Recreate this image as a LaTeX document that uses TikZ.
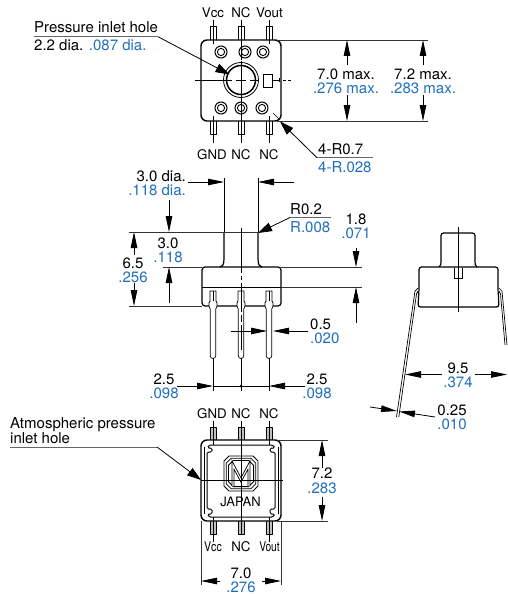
\documentclass[tikz,border=0pt]{standalone}
\usepackage{fontspec}
\setmainfont{TeX Gyre Heros}
\usetikzlibrary{arrows.meta}
\definecolor{dimblue}{HTML}{1F6FBF}
\tikzset{
 lab/.style={anchor=base,inner sep=0pt,font=\fontsize{15}{15}\selectfont,text=black},
 pinlab/.style={lab,font=\fontsize{13.3}{13.3}\selectfont},
 blu/.style={lab,text=dimblue},
 labl/.style={lab,anchor=base west},
 blul/.style={blu,anchor=base west},
 labr/.style={lab,anchor=base east},
 blur/.style={blu,anchor=base east},
 obj/.style={line width=1.2pt,line join=round},
 pinl/.style={line width=.7pt,line join=round},
 thin line/.style={line width=.7pt},
 ext/.style={line width=.9pt,draw=black!80},
 dimt/.style={line width=.8pt,-{Triangle[length=16pt,width=6.5pt]}},
 lead/.style={line width=.8pt,-{Triangle[length=14pt,width=9pt]}},
 rule/.style={line width=1pt,draw=black!60},
}
\newcommand{\toppin}[1]{\draw[pinl] (#1-3,40)--(#1-3,26.5)--(#1+3,26.5)--(#1+3,40);}
\newcommand{\botpin}[1]{\draw[pinl] (#1-3,121)--(#1-3,134.5)--(#1+3,134.5)--(#1+3,121);}
\newcommand{\hole}[2]{\draw[line width=1pt] (#1,#2) circle (6); \draw[line width=.9pt] (#1,#2) circle (3.6);}
\newcommand{\sidepin}[1]{\draw[pinl,fill=white] (#1-3,291)--(#1-3,301)--(#1-4,303)--(#1-4,306)--(#1-2.8,309)--(#1-2.8,355.5) .. controls (#1-2.8,359.5) and (#1+2.8,359.5) .. (#1+2.8,355.5)--(#1+2.8,309)--(#1+4,306)--(#1+4,303)--(#1+3,301)--(#1+3,291)--cycle;}
\newcommand{\botApin}[1]{\draw[pinl,fill=black!25] (#1-3,440)--(#1-3,427)--(#1+3,427)--(#1+3,440);}
\newcommand{\botBpin}[1]{\draw[pinl,fill=black!25] (#1-3,521)--(#1-3,534)--(#1+3,534)--(#1+3,521);}
\begin{document}
\begin{tikzpicture}[x=1pt,y=-1pt]
\useasboundingbox[fill=white] (0,0) rectangle (507,594);
% ---------- top view
\foreach \x in {213,241,269}{\toppin{\x}\botpin{\x}}
\draw[obj,fill=white,line width=1.4pt,rounded corners=6pt] (201,40) rectangle (281,121);
\draw[thin line] (213,20)--(213,44) (241,20)--(241,60) (269,20)--(269,44) (213,116)--(213,143) (241,98)--(241,143) (269,116)--(269,143);
\hole{221}{52}\hole{245}{52}\hole{263}{52}\hole{221}{108}\hole{241}{108}\hole{262}{108}
\draw[line width=.8pt] (241,80) circle (17.5);
\draw[line width=1.5pt] (241,80) circle (14.5);
\draw[line width=.8pt] (263,74) rectangle (272,87);
\draw[thin line] (195,80)--(232,80) (236,80)--(246,80) (250,80)--(258,80);
\draw[thin line] (241,61)--(241,97);
\draw[thin line] (272,80)--(280,80) (283,80)--(286,80) (288,80)--(291,80);
\draw[thin line] (279,78)--(279,82);
\node[pinlab] (tVcc) at (213,18) {Vcc};
\node[pinlab] (tNC) at (241,18) {NC};
\node[pinlab] (tVout) at (269.5,18) {Vout};
\node[pinlab] (tGND) at (212,159) {GND};
\node[pinlab] (tNCa) at (241,159) {NC};
\node[pinlab] (tNCb) at (269,159) {NC};
\node[labl] (pih) at (34,33) {Pressure inlet hole};
\node[labl] (pid) at (34,51) {2.2 dia. \textcolor{dimblue}{.087 dia.}};
\draw[rule] (34,36.7)--(158,36.7);
\draw[lead] (158,36.7)--(229.5,74.5);
\draw[ext] (277,40)--(428,40) (277,121)--(428,121);
\draw[dimt] (347,65)--(347,40); \draw[dimt] (347,95)--(347,121);
\draw[dimt] (423,65)--(423,40); \draw[dimt] (423,95)--(423,121);
\node[lab] (a70) at (346,79) {7.0 max.};
\node[blu] (a276) at (346,93) {.276 max.};
\node[lab] (a72) at (423,79) {7.2 max.};
\node[blu] (a283) at (423,93) {.283 max.};
\draw[thin line] (273,113)--(279,119);
\draw[rule] (373,157.7)--(317,157.7);
\draw[lead] (317,157.7)--(280,121.5);
\node[labl] (r07) at (318,154) {4-R0.7};
\node[blul] (r028) at (318,172) {4-R.028};
% ---------- side view
\draw[obj] (224,232)--(224,259) .. controls (224,265) and (222,267) .. (220,267);
\draw[obj] (258,232)--(258,259) .. controls (258,265) and (260,267) .. (262,267);
\draw[obj,rounded corners=3pt] (202,267)--(281,267)--(281,306)--(202,306)--cycle;
\draw[line width=.8pt] (202,287)--(281,287);
\foreach \x in {213,241,269}{\sidepin{\x}}
\draw[thin line] (241,228)--(241,273) (241,276)--(241,280) (241,283)--(241,312) (241,315)--(241,322) (241,325)--(241,350);
\draw[thin line] (213,291)--(213,301) (269,291)--(269,301);
\draw[thin line] (213,358)--(213,391) (241,358)--(241,391) (269,358)--(269,391);
\draw[thin line] (224,178)--(224,232) (258,178)--(258,232);
\draw[ext] (129,232)--(258,232);
\draw[ext] (163,267)--(202,267) (129,306)--(202,306);
\draw[ext] (281,267)--(362,267) (281,287)--(362,287);
\draw[dimt] (188,182)--(224,182); \draw[dimt] (294,182)--(258,182);
\draw[dimt] (169,200)--(169,232); \draw[dimt] (169,303)--(169,267);
\draw[dimt] (134,255)--(134,232); \draw[dimt] (134,283)--(134,306);
\draw[dimt] (356,248)--(356,267); \draw[dimt] (356,323)--(356,287);
\draw[dimt] (231,331)--(267,331); \draw[dimt] (308,331)--(273,331);
\draw[dimt] (177,386)--(213,386); \draw[dimt] (305,386)--(269,386);
\draw[line width=.8pt] (213,386)--(269,386);
\fill (241,386) circle (1.5);
\draw[rule] (331,217.5)--(290,217.5);
\draw[lead] (290,217.5)--(258,233);
\node[labr] (d30) at (186,181) {3.0 dia.};
\node[blur] (d118) at (186,195) {.118 dia.};
\node[lab] (h30) at (168,248) {3.0};
\node[blu] (h118) at (168,262) {.118};
\node[lab] (h65) at (133,268) {6.5};
\node[blu] (h256) at (133,282) {.256};
\node[labl] (r02) at (290,214) {R0.2};
\node[blul] (r008) at (290,232) {R.008};
\node[lab] (h18) at (356,224) {1.8};
\node[blu] (h071) at (356,238) {.071};
\node[labl] (w05) at (310,329) {0.5};
\node[blul] (w020) at (310,343.5) {.020};
\node[lab] (p25a) at (164,384) {2.5};
\node[blu] (p098a) at (164,398) {.098};
\node[lab] (p25b) at (317,384) {2.5};
\node[blu] (p098b) at (317,398) {.098};
% ---------- right view
\draw[obj,rounded corners=2.5pt] (419,267)--(498,267)--(498,289)--(499,307)--(418,307)--(419,289)--cycle;
\draw[obj] (439,267) .. controls (441,266) and (441,264) .. (441,261);
\draw[obj,rounded corners=2.5pt] (441,261)--(441,233)--(475,233)--(475,261);
\draw[obj] (475,261) .. controls (475,264) and (475,266) .. (477,267);
\draw[pinl] (454,268)--(454,278)--(462,278)--(462,268);
\draw[thin line] (458,227)--(458,312);
\draw[pinl] (418,288)--(415,291)--(396.5,417);
\draw[pinl] (418,291)--(416.5,294)--(398.8,417);
\draw[pinl] (499,288)--(502,291)--(507,345);
\draw[pinl] (499,291)--(500.5,294)--(505,345);
\draw[dimt] (442,374.5)--(405,374.5); \draw[dimt] (475,374.5)--(507,374.5);
\draw[dimt] (370,407)--(397,411); \draw[dimt] (435,417)--(399,411.5);
\node[lab] (d95) at (458,373) {9.5};
\node[blu] (d374) at (458,387) {.374};
\node[lab] (d025) at (452,415) {0.25};
\node[blu] (d010) at (452,429) {.010};
% ---------- bottom view
\foreach \x in {213,241,269}{\botApin{\x}\botBpin{\x}}
\draw[obj,fill=white,line width=1.4pt,rounded corners=6pt] (201,440) rectangle (281,521);
\foreach \x in {213,269}{\draw[thin line] (\x,421)--(\x,445);\draw[thin line] (\x,517)--(\x,542);}
\draw[line width=1pt,rounded corners=1.5pt] (207,452)--(207,509)--(212,509)--(212,514)--(207.5,514)--(209,517)--(273,517)--(275,514)--(270,514)--(270,509)--(275,509)--(275,452)--(270,452)--(270,448)--(275,448)--(273,445)--(209,445)--(207.5,448)--(212,448)--(212,452)--cycle;
\draw[line width=.7pt] (204,447)--(204,514);
\draw[line width=.7pt] (278,447)--(278,514);
% M logo
\foreach \d in {0,2.2,4.4}{\draw[line width=.8pt] (224+\d+5,456+\d)--(258-\d-5,456+\d)--(258-\d,461+\d)--(258-\d,486-\d)--(253-\d,491-\d)--(229+\d,491-\d)--(224+\d,486-\d)--(224+\d,461+\d)--cycle;}
\draw[line width=2.8pt] (233,486)--(233,465)--(241,480)--(249,465)--(249,486);
\draw[line width=1.1pt,white] (233,486)--(233,465)--(241,480)--(249,465)--(249,486);
\draw[thin line] (241,421)--(241,535);
\draw[thin line] (201,480)--(283,480);
\node[lab,font=\fontsize{13}{13}\selectfont] (jp) at (240.5,506) {JAPAN};
\node[pinlab] (bGND) at (212,418) {GND};
\node[pinlab] (bNCa) at (241,418) {NC};
\node[pinlab] (bNCb) at (269,418) {NC};
\node[pinlab,xscale=.8] (bVcc) at (213,551) {Vcc};
\node[pinlab] (bNC) at (241,551) {NC};
\node[pinlab,xscale=.77] (bVout) at (269.5,551) {Vout};
\node[labl] (ap) at (10,428) {Atmospheric pressure};
\node[labl] (ih) at (10,443) {inlet hole};
\draw[rule] (10,447)--(157,447);
\draw[lead] (157,447)--(201,480);
\draw[ext] (277,440)--(328,440) (277,521)--(328,521);
\draw[dimt] (322,468)--(322,440); \draw[dimt] (322,497)--(322,521);
\node[lab] (b72) at (322,478) {7.2};
\node[blu] (b283) at (322,493) {.283};
\draw[ext] (201,521)--(201,585) (281,521)--(281,585);
\draw[dimt] (220,581)--(201,581); \draw[dimt] (262,581)--(281,581);
\node[lab] (b70) at (241,578) {7.0};
\node[blu] (b276) at (241,592.2) {.276};
\end{tikzpicture}
\end{document}
